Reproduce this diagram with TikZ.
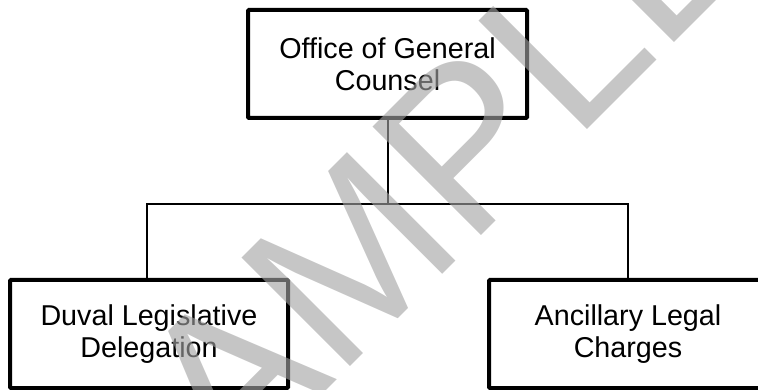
\documentclass[tikz,border=0pt]{standalone}
\usepackage{fontspec}
\setmainfont{Liberation Sans}
\begin{document}
\begin{tikzpicture}[x=1pt,y=-1pt,
  box/.style={draw=black, line width=4pt, rounded corners=1pt, fill=white,
    minimum width=278pt, minimum height=108pt, inner sep=0pt, align=center,
    font=\fontsize{28.7}{32.5}\selectfont},
  conn/.style={draw=black, line width=2pt},
  wmark/.style={inner sep=0pt, text=black!36, opacity=0.62,
    font=\fontsize{223}{223}\selectfont}]
\useasboundingbox (0,0) rectangle (758,390);
\clip (0,0) rectangle (758,390);
\node[box, minimum width=279pt] (ogc) at (387.5,64) {Office of General\\Counsel};
\node[box] (dld) at (149,334) {Duval Legislative\\Delegation};
\node[box] (alc) at (628,334) {Ancillary Legal\\Charges};
\coordinate (mid) at (387.5,204);
\draw[conn] (ogc.south) -- (mid);
\draw[conn] (dld.north -| 147,0) |- (mid) -| (alc.north);
\node[wmark, rotate=45, anchor=base west] (wm) at (127,590) {SAMPLE};
\end{tikzpicture}
\end{document}
